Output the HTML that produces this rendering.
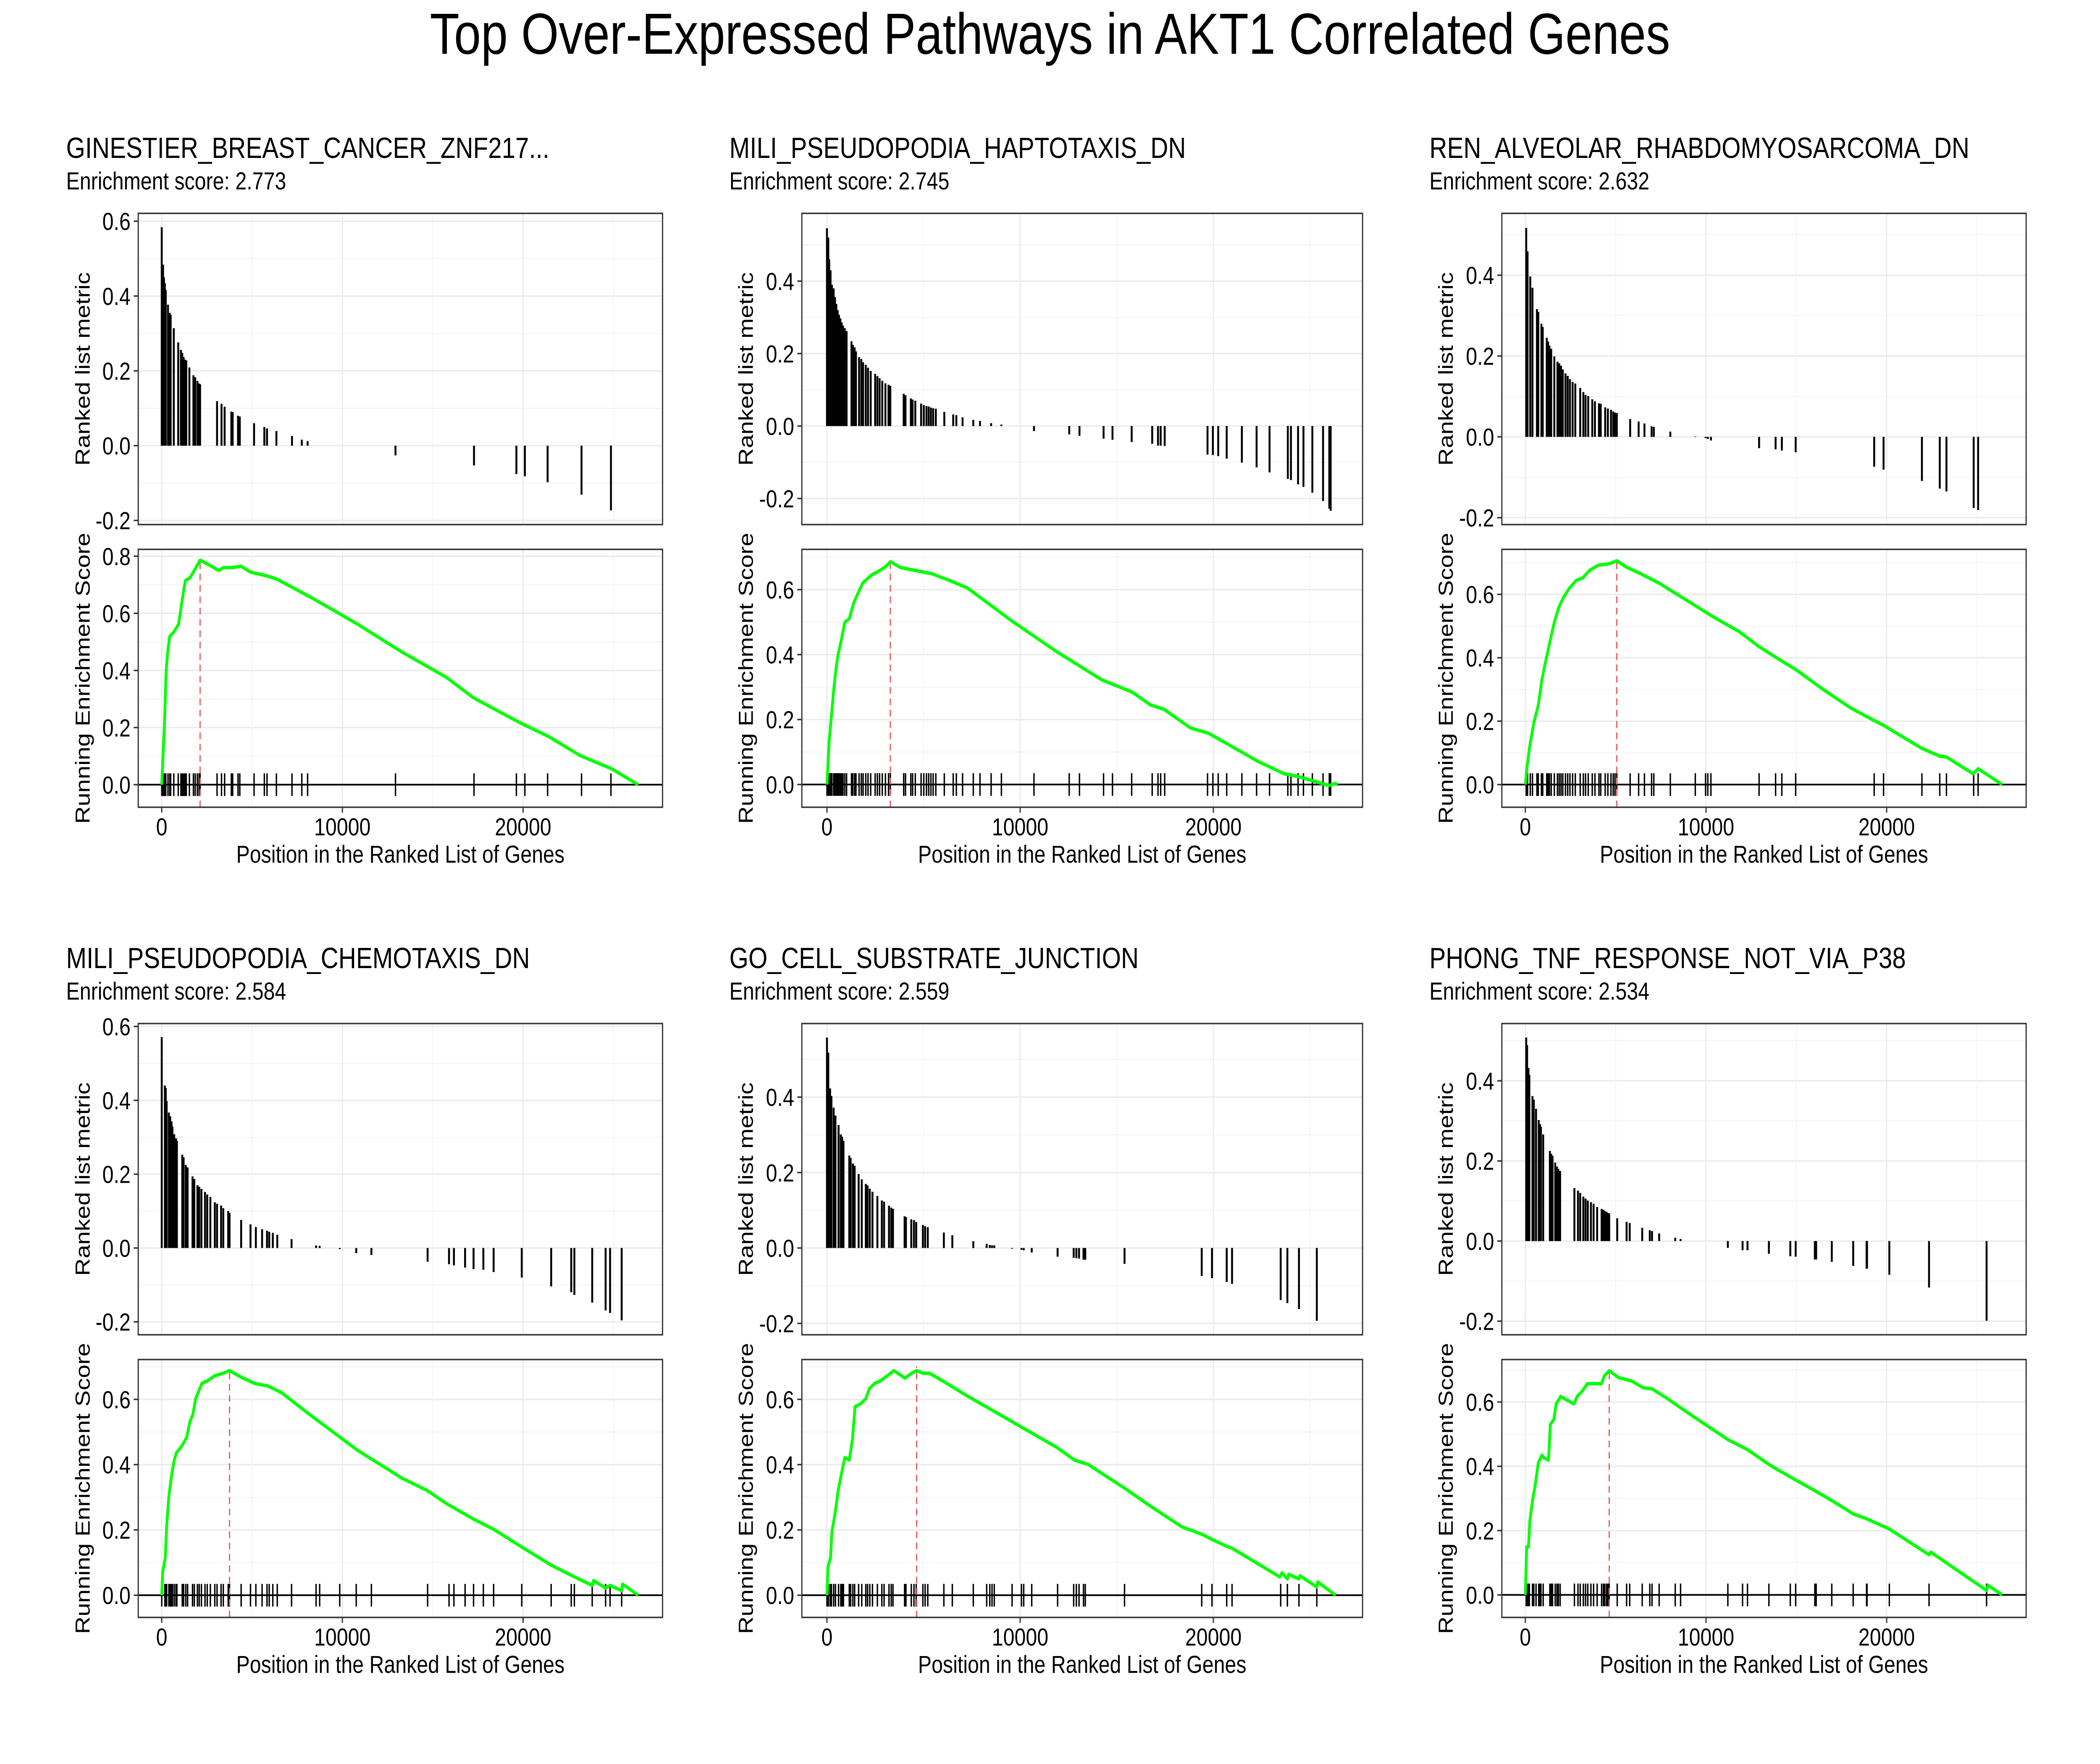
<!DOCTYPE html>
<html><head><meta charset="utf-8">
<style>
html,body{margin:0;padding:0;background:#fff;overflow:hidden;width:100%;height:100%;}
svg{display:block;font-family:"Liberation Sans",Arial,sans-serif;width:100vw;height:100vh;}
</style></head>
<body>
<svg id="root" viewBox="0 0 6000 4200" preserveAspectRatio="none" xmlns="http://www.w3.org/2000/svg">
<rect x="0" y="0" width="6000" height="4200" fill="#fff"/>
<text x="3000" y="128" font-size="138" text-anchor="middle" fill="#000">Top Over-Expressed Pathways in AKT1 Correlated Genes</text>
</svg>
<script>
// ---------- data ----------
const panelNames = ["GINESTIER_BREAST_CANCER_ZNF217...","MILI_PSEUDOPODIA_HAPTOTAXIS_DN","REN_ALVEOLAR_RHABDOMYOSARCOMA_DN","MILI_PSEUDOPODIA_CHEMOTAXIS_DN","GO_CELL_SUBSTRATE_JUNCTION","PHONG_TNF_RESPONSE_NOT_VIA_P38"];
const enrichmentScores = ["2.773","2.745","2.632","2.584","2.559","2.534"];
const xTickValues = [0,10000,20000];
const xTickLabels = ["0","10000","20000"];
const peakRanks = [2123,3279,5062,3753,4642,4642];

const p1Ranks = [0,74,123,173,222,346,444,494,667,914,1062,1136,1210,1284,1358,1531,1753,1852,1975,2074,2123,3062,3309,3481,3852,3926,4222,4321,5111,5679,5827,6346,7210,7753,8074,12938,17284,19630,20099,21358,23235,24864];
const p1Metric = [0.584,0.484,0.45,0.434,0.416,0.377,0.355,0.35,0.314,0.276,0.256,0.248,0.237,0.23,0.228,0.209,0.188,0.183,0.173,0.166,0.164,0.119,0.112,0.104,0.091,0.09,0.08,0.078,0.06,0.05,0.046,0.039,0.026,0.016,0.012,-0.026,-0.053,-0.076,-0.082,-0.098,-0.131,-0.173];
const p1EsRank = [0,148,247,346,444,691,938,1062,1185,1309,1556,1802,2123,2667,3160,3407,3901,4395,4889,5877,6370,8346,10815,13284,15753,17235,19704,21432,23160,24889,26370];
const p1EsScore = [0,0.207,0.403,0.474,0.519,0.537,0.563,0.617,0.67,0.715,0.724,0.75,0.786,0.768,0.75,0.76,0.76,0.765,0.745,0.73,0.72,0.653,0.563,0.465,0.376,0.305,0.221,0.168,0.102,0.056,0];

const p2Ranks = [0,69,115,185,254,346,416,485,554,623,693,762,831,924,1016,1270,1339,1432,1501,1662,1778,1870,2009,2124,2263,2494,2609,2725,2863,3025,3186,3279,3971,4064,4341,4433,4572,4872,5011,5149,5265,5380,5495,5634,6073,6534,6696,7019,7574,7920,8497,9028,10714,12538,13069,14316,14778,15771,16833,17133,17272,17480,19696,19973,20250,20689,21474,22236,22906,23852,24014,24383,24661,25122,25676,25999,26069];
const p2Metric = [0.546,0.52,0.46,0.43,0.39,0.38,0.356,0.337,0.32,0.307,0.297,0.286,0.277,0.27,0.262,0.234,0.224,0.217,0.206,0.19,0.185,0.176,0.169,0.161,0.152,0.144,0.138,0.132,0.125,0.118,0.114,0.111,0.089,0.085,0.076,0.073,0.07,0.062,0.058,0.055,0.054,0.051,0.049,0.048,0.039,0.032,0.03,0.024,0.017,0.014,0.008,0.004,-0.014,-0.023,-0.027,-0.035,-0.038,-0.044,-0.049,-0.054,-0.054,-0.055,-0.079,-0.08,-0.083,-0.09,-0.101,-0.114,-0.128,-0.146,-0.149,-0.161,-0.168,-0.184,-0.207,-0.228,-0.234];
const p2EsRank = [0,115,231,346,462,577,762,924,1155,1385,1616,1847,2309,2771,3117,3279,3810,4503,5426,6350,7273,9582,11891,14200,15817,16740,17433,18818,19742,20666,22282,23667,24360,25284,25976,26323,26439];
const p2EsScore = [0,0.135,0.21,0.29,0.354,0.4,0.45,0.5,0.51,0.56,0.59,0.62,0.645,0.66,0.675,0.686,0.668,0.66,0.649,0.628,0.605,0.503,0.409,0.323,0.284,0.245,0.232,0.174,0.158,0.127,0.072,0.033,0.025,0.009,-0.003,0.003,0];

const p3Ranks = [49,123,272,395,642,716,889,963,1185,1259,1333,1432,1605,1778,1876,1975,2074,2222,2346,2469,2617,2765,3037,3210,3333,3481,3704,3852,4074,4173,4420,4568,4741,4864,4963,5062,5802,6271,6593,6988,7111,8025,9407,9975,10099,10272,12938,13852,14198,14963,19309,19827,21951,22938,23309,24815,25062];
const p3Metric = [0.517,0.459,0.397,0.369,0.316,0.309,0.28,0.272,0.245,0.236,0.226,0.218,0.199,0.186,0.182,0.176,0.167,0.157,0.151,0.143,0.136,0.132,0.121,0.111,0.104,0.101,0.093,0.088,0.083,0.082,0.073,0.07,0.067,0.063,0.06,0.059,0.044,0.038,0.033,0.026,0.025,0.013,0.001,-0.003,-0.005,-0.009,-0.028,-0.031,-0.034,-0.038,-0.074,-0.081,-0.109,-0.128,-0.135,-0.176,-0.181];
const p3EsRank = [0,99,222,346,469,716,914,1086,1333,1580,1827,2074,2444,2815,3185,3556,4049,4666,5062,5654,6395,7383,9111,10346,11827,12938,14049,14963,16518,18000,19309,19852,21951,22938,23309,24790,25062,26395];
const p3EsScore = [0,0.058,0.114,0.154,0.194,0.25,0.33,0.379,0.443,0.507,0.555,0.587,0.62,0.644,0.652,0.676,0.692,0.697,0.706,0.684,0.665,0.636,0.575,0.531,0.483,0.435,0.395,0.363,0.299,0.242,0.202,0.186,0.114,0.09,0.087,0.034,0.05,0];

const p4Ranks = [0,173,222,272,395,469,543,593,691,790,839,1136,1210,1333,1432,1704,1802,1975,2074,2197,2395,2518,2691,2938,3062,3284,3407,3679,3753,4395,4913,5210,5555,5827,5950,6148,6395,7185,8543,8741,9852,10765,11605,14716,15901,16173,16790,17259,17802,18370,19926,21555,22666,22839,23827,24568,24815,25457];
const p4Metric = [0.571,0.44,0.433,0.398,0.367,0.357,0.343,0.329,0.308,0.297,0.29,0.253,0.246,0.225,0.218,0.194,0.187,0.17,0.166,0.16,0.152,0.145,0.138,0.124,0.12,0.115,0.108,0.1,0.095,0.076,0.064,0.057,0.051,0.047,0.044,0.041,0.036,0.024,0.007,0.006,-0.003,-0.014,-0.019,-0.037,-0.044,-0.047,-0.053,-0.057,-0.059,-0.065,-0.08,-0.104,-0.12,-0.127,-0.148,-0.169,-0.176,-0.196];
const p4EsRank = [0,49,198,272,395,568,691,815,1062,1235,1383,1556,1728,1876,2049,2222,2543,2913,3407,3753,4395,5136,5876,6617,8345,10814,13283,14716,15752,17234,18370,19950,21555,22666,23827,23901,24568,24815,25457,25506,26370];
const p4EsScore = [0,0.069,0.116,0.21,0.304,0.375,0.414,0.437,0.453,0.469,0.484,0.531,0.555,0.602,0.625,0.649,0.657,0.672,0.68,0.688,0.668,0.649,0.641,0.621,0.547,0.445,0.359,0.32,0.281,0.234,0.202,0.147,0.092,0.061,0.03,0.045,0.022,0.03,0.014,0.034,0];

const p5Ranks = [0,69,162,231,346,439,600,716,785,854,1155,1224,1339,1432,1639,1801,2009,2101,2217,2355,2609,2840,2956,3210,3325,3417,4018,4087,4364,4503,4618,4964,5080,5218,6050,6488,7574,8266,8428,8543,8659,9582,10067,10183,10598,11937,12769,12907,13046,13277,13369,15401,19396,19927,20689,20966,23483,23829,24429,25353];
const p5Metric = [0.558,0.518,0.423,0.403,0.372,0.351,0.326,0.301,0.295,0.284,0.245,0.239,0.224,0.218,0.196,0.182,0.17,0.166,0.157,0.149,0.138,0.126,0.123,0.112,0.107,0.104,0.084,0.082,0.076,0.074,0.069,0.061,0.058,0.055,0.041,0.034,0.018,0.011,0.008,0.007,0.007,-0.002,-0.005,-0.006,-0.012,-0.023,-0.026,-0.027,-0.028,-0.031,-0.031,-0.042,-0.074,-0.08,-0.09,-0.095,-0.138,-0.146,-0.162,-0.193];
const p5EsRank = [0,46,185,254,416,577,762,924,1155,1316,1455,1732,2009,2194,2471,2771,3117,3464,4041,4387,4641,4964,5311,6119,7273,8428,10044,11891,12815,13508,15401,16740,18356,19396,19927,20689,20966,23436,23552,23829,23898,24429,24475,25353,25399,26323];
const p5EsScore = [0,0.085,0.116,0.194,0.249,0.32,0.375,0.422,0.414,0.476,0.578,0.586,0.602,0.633,0.649,0.657,0.672,0.688,0.665,0.68,0.688,0.68,0.68,0.652,0.61,0.571,0.516,0.453,0.414,0.401,0.328,0.273,0.21,0.187,0.171,0.15,0.144,0.056,0.069,0.05,0.064,0.05,0.06,0.025,0.041,0];

const p6Ranks = [49,99,173,222,395,469,593,741,815,864,988,1358,1432,1506,1654,1753,1827,1926,2716,2913,3037,3210,3333,3457,3630,3778,3975,4222,4321,4395,4494,4568,4642,5086,5605,5777,6469,6889,7012,7407,8296,8592,11209,12024,12296,13481,14666,14963,16024,16098,16962,18147,18888,18913,20147,22345,25530];
const p6Metric = [0.508,0.489,0.432,0.415,0.362,0.353,0.33,0.302,0.292,0.285,0.266,0.225,0.218,0.213,0.196,0.186,0.18,0.175,0.132,0.126,0.12,0.111,0.106,0.101,0.097,0.093,0.085,0.08,0.078,0.075,0.073,0.07,0.069,0.057,0.048,0.045,0.033,0.027,0.025,0.019,0.008,0.005,-0.017,-0.023,-0.023,-0.032,-0.038,-0.039,-0.046,-0.046,-0.052,-0.062,-0.069,-0.069,-0.084,-0.116,-0.199];
const p6EsRank = [0,74,173,247,395,543,716,914,1012,1284,1383,1580,1704,1951,2691,2864,3136,3432,3802,4222,4370,4642,5160,5901,6518,7012,7876,9111,11209,12320,13555,14789,16024,17012,18147,18888,20147,22345,22444,25530,25604,26395];
const p6EsScore = [0,0.149,0.149,0.229,0.292,0.34,0.411,0.435,0.427,0.419,0.53,0.546,0.594,0.617,0.594,0.617,0.633,0.657,0.657,0.657,0.681,0.697,0.676,0.665,0.644,0.641,0.61,0.562,0.483,0.451,0.403,0.363,0.324,0.292,0.252,0.237,0.205,0.125,0.133,0.014,0.03,0];

const topTicks = [[-0.2,0,0.2,0.4,0.6],[-0.2,0,0.2,0.4],[-0.2,0,0.2,0.4],[-0.2,0,0.2,0.4,0.6],[-0.2,0,0.2,0.4],[-0.2,0,0.2,0.4]];
const bottomTicks = [[0,0.2,0.4,0.6,0.8],[0,0.2,0.4,0.6],[0,0.2,0.4,0.6],[0,0.2,0.4,0.6],[0,0.2,0.4,0.6],[0,0.2,0.4,0.6]];

const allRanks = [p1Ranks,p2Ranks,p3Ranks,p4Ranks,p5Ranks,p6Ranks];
const allMetric = [p1Metric,p2Metric,p3Metric,p4Metric,p5Metric,p6Metric];
const allEsRank = [p1EsRank,p2EsRank,p3EsRank,p4EsRank,p5EsRank,p6EsRank];
const allEsScore = [p1EsScore,p2EsScore,p3EsScore,p4EsScore,p5EsScore,p6EsScore];

// ---------- layout ----------
const colBox = [[395,1893,189,236],[2291,3893,2084,2131],[4291,5789,4084,4131]];
const rowOff = [0,1929];
const topLim = [[-0.211,0.621],[-0.272,0.587],[-0.217,0.553],[-0.235,0.608],[-0.230,0.595],[-0.234,0.543]];
const botLim = [[-0.079,0.824],[-0.070,0.724],[-0.0715,0.742],[-0.068,0.722],[-0.068,0.722],[-0.070,0.732]];
const XMIN=-1300, XMAX=27720;
const NS="http://www.w3.org/2000/svg";
const root=document.getElementById('root');
function mk(tag,attrs,parent){const e=document.createElementNS(NS,tag);for(const k in attrs)e.setAttribute(k,attrs[k]);(parent||root).appendChild(e);return e;}
function fmt(v){return v.toFixed(1);}

for(let p=0;p<6;p++){
  const c=p%3, r=Math.floor(p/3), dy=rowOff[r];
  const L=colBox[c][0], R=colBox[c][1];
  const tT=508+dy, tB=1249+dy, bT=1308+dy, bB=1922+dy;
  const g=mk('g',{});
  
  
  const xs=v=>L+(v-XMIN)/(XMAX-XMIN)*(R-L);
  const yt=v=>tB-(v-topLim[p][0])/(topLim[p][1]-topLim[p][0])*(tB-tT);
  const yb=v=>bB-(v-botLim[p][0])/(botLim[p][1]-botLim[p][0])*(bB-bT);

  const t=mk('text',{x:colBox[c][2],y:376+dy,'font-size':70,fill:'#000'},g);
  t.textContent=panelNames[p];
  
  
  const s=mk('text',{x:colBox[c][2],y:451+dy,'font-size':58,fill:'#000'},g);
  s.textContent='Enrichment score: '+enrichmentScores[p];
  
  

  const grid=mk('g',{},g);
  
  
  [[tT,tB,yt,topTicks[p],topLim[p]],[bT,bB,yb,bottomTicks[p],botLim[p]]].forEach(([T,B,yf,ticks,lim])=>{
    const step=ticks[1]-ticks[0];
    for(let v=ticks[0]-step/2; v<=lim[1]; v+=step){ if(v>=lim[0]) mk('line',{x1:L,x2:R,y1:yf(v),y2:yf(v),stroke:'#f2f2f2','stroke-width':2},grid); }
    ticks.forEach(v=>mk('line',{x1:L,x2:R,y1:yf(v),y2:yf(v),stroke:'#ebebeb','stroke-width':3.5},grid));
    [5000,15000,25000].forEach(v=>mk('line',{x1:xs(v),x2:xs(v),y1:T,y2:B,stroke:'#f2f2f2','stroke-width':2},grid));
    xTickValues.forEach(v=>mk('line',{x1:xs(v),x2:xs(v),y1:T,y2:B,stroke:'#ebebeb','stroke-width':3.5},grid));
  });

  const bars=mk('g',{},g);
  
  
  allRanks[p].forEach((rk,i)=>{
    const b=mk('line',{x1:xs(rk),x2:xs(rk),y1:yt(0),y2:yt(allMetric[p][i]),stroke:'#000','stroke-width':5.5},bars);
    
    
  });

  const zl=mk('line',{x1:L,x2:R,y1:yb(0),y2:yb(0),stroke:'#000','stroke-width':4},g);
  
  
  const hits=mk('g',{},g);
  
  
  allRanks[p].forEach(rk=>{
    const h=mk('line',{x1:xs(rk),x2:xs(rk),y1:yb(0)-27,y2:yb(0)+27,stroke:'#000','stroke-width':4},hits);
    
    
  });

  const pi=allEsRank[p].indexOf(peakRanks[p]);
  const pv=pi>=0?allEsScore[p][pi]:0.7;
  const pk=mk('line',{x1:xs(peakRanks[p]),x2:xs(peakRanks[p]),y1:bB,y2:yb(pv),stroke:'#ef5a5a','stroke-width':3.5,'stroke-dasharray':'16 11'},g);
  
  

  const pts=allEsRank[p].map((rk,i)=>fmt(xs(rk))+','+fmt(yb(allEsScore[p][i]))).join(' ');
  const es=mk('polyline',{points:pts,fill:'none',stroke:'#00ff00','stroke-width':8,'stroke-linejoin':'round'},g);
  
  

  [[tT,tB],[bT,bB]].forEach(([T,B])=>{
    const fr=mk('rect',{x:L,y:T,width:R-L,height:B-T,fill:'none',stroke:'#333','stroke-width':3.5},g);
    
    
  });

  [[yt,topTicks[p]],[yb,bottomTicks[p]]].forEach(([yf,ticks])=>{
    ticks.forEach(v=>{
      mk('line',{x1:L-13,x2:L,y1:yf(v),y2:yf(v),stroke:'#333','stroke-width':3.5},g);
      const lb=mk('text',{x:L-22,y:yf(v)+21,'font-size':58,'text-anchor':'end',fill:'#000'},g);
      lb.textContent=v.toFixed(1);
      
      
    });
  });
  xTickValues.forEach((v,i)=>{
    mk('line',{x1:xs(v),x2:xs(v),y1:bB,y2:bB+13,stroke:'#333','stroke-width':3.5},g);
    const lb=mk('text',{x:xs(v),y:1989+dy,'font-size':58,'text-anchor':'middle',fill:'#000'},g);
    lb.textContent=xTickLabels[i];
    
    
  });
  const xt=mk('text',{x:(L+R)/2,y:2054+dy,'font-size':58,'text-anchor':'middle',fill:'#000'},g);
  xt.textContent='Position in the Ranked List of Genes';
  
  
  const yx=colBox[c][3]+20;
  const ya=mk('text',{x:yx,y:(tT+tB)/2,'font-size':58,'text-anchor':'middle',fill:'#000',transform:'rotate(-90 '+yx+' '+((tT+tB)/2)+')'},g);
  ya.textContent='Ranked list metric';
  
  
  const yb2=mk('text',{x:yx,y:(bT+bB)/2,'font-size':58,'text-anchor':'middle',fill:'#000',transform:'rotate(-90 '+yx+' '+((bT+bB)/2)+')'},g);
  yb2.textContent='Running Enrichment Score';
  
  
}
</script>
</body></html>
